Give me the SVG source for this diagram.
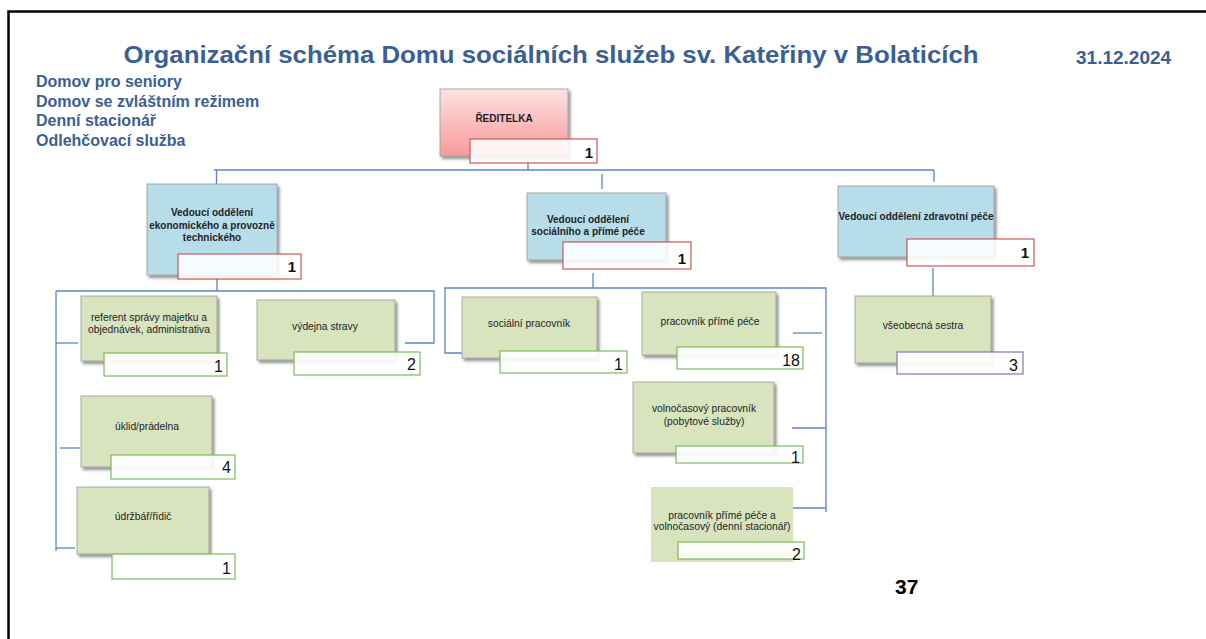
<svg xmlns="http://www.w3.org/2000/svg" width="1206" height="639" viewBox="0 0 1206 639">
<style>
.frame{stroke:#000;stroke-width:2.5;fill:none}
.title{font-family:"Liberation Sans",Arial,sans-serif;font-weight:bold;fill:#3b5f92}
.conn path{fill:none;stroke:#5b86c5;stroke-width:1.3}
.blue{fill:#b7dde8;stroke:#9a9a9a;stroke-width:0.8}
.green{fill:#d7e4bd;stroke:#9a9a9a;stroke-width:0.8}
.flat{fill:#d7e4bd}
.cnt-r{fill:#ffffff;fill-opacity:0.88;stroke:#c65a58;stroke-width:1.2}
.cnt-g{fill:#ffffff;fill-opacity:0.9;stroke:#7fba5a;stroke-width:1.2}
.cnt-p{fill:#ffffff;fill-opacity:0.9;stroke:#8e72b4;stroke-width:1.2}
.lh{font-family:"Liberation Sans",Arial,sans-serif;font-weight:bold;font-size:10px;fill:#1e1e2a;text-anchor:middle}
.lg{font-family:"Liberation Sans",Arial,sans-serif;font-size:10.3px;fill:#1e1e2a;text-anchor:middle}
.nb{font-family:"Liberation Sans",Arial,sans-serif;font-weight:bold;font-size:15px;fill:#111;text-anchor:end}
.nr{font-family:"Liberation Sans",Arial,sans-serif;font-size:16px;fill:#111;text-anchor:end}
</style>
<defs>
<filter id="sh" x="-10%" y="-10%" width="130%" height="140%">
<feDropShadow dx="2" dy="2.5" stdDeviation="1.5" flood-color="#000" flood-opacity="0.45"/>
</filter>
<linearGradient id="pink" x1="0" y1="0" x2="0" y2="1">
<stop offset="0" stop-color="#fde2e2"/>
<stop offset="1" stop-color="#f79a9a"/>
</linearGradient>
</defs>
<rect width="1206" height="639" fill="#fff"/>
<path class="frame" d="M8.5,639 V11.5 H1206"/>
<text class="title" x="551" y="63" font-size="23" text-anchor="middle" textLength="855" lengthAdjust="spacingAndGlyphs">Organizační schéma Domu sociálních služeb sv. Kateřiny v Bolaticích</text>
<text class="title" x="1076" y="64" font-size="19">31.12.2024</text>
<text class="title" font-size="16"><tspan x="36" y="87">Domov pro seniory</tspan><tspan x="36" y="106.7">Domov se zvláštním režimem</tspan><tspan x="36" y="126.4">Denní stacionář</tspan><tspan x="36" y="146">Odlehčovací služba</tspan></text>
<text x="895" y="594" font-family="Liberation Sans,Arial,sans-serif" font-weight="bold" font-size="21" fill="#000">37</text>

<g id="connectors" class="conn">
<path d="M214,170 H934"/>
<path d="M528,159 V170"/>
<path d="M216.5,170 V186"/>
<path d="M602,174 V189"/>
<path d="M934,170 V182"/>
<path d="M217,279 V291"/>
<path d="M56,291 H434 V343 H405"/>
<path d="M56,291 V551"/>
<path d="M56,343 H78"/>
<path d="M60,448 H80"/>
<path d="M56,548 H75"/>
<path d="M593,273 V288"/>
<path d="M463,353 H445 V288 H826 V512"/>
<path d="M793,333 H822"/>
<path d="M792,428 H826"/>
<path d="M793,508 H826"/>
<path d="M933,268 V300"/>
</g>

<g id="reditelka">
<rect x="440" y="89" width="128" height="67" fill="url(#pink)" stroke="#9a9a9a" stroke-width="0.8" filter="url(#sh)"/>
<text class="lh" x="504" y="122">ŘEDITELKA</text>
<rect class="cnt-r" x="470" y="139" width="127" height="24"/>
<text class="nb" x="593" y="158">1</text>
</g>

<g id="ved-ekonom">
<rect class="blue" x="147" y="184" width="130" height="91" filter="url(#sh)"/>
<text class="lh"><tspan x="212" y="216">Vedoucí oddělení</tspan><tspan x="212" y="228.5">ekonomického a provozně</tspan><tspan x="212" y="241">technického</tspan></text>
<rect class="cnt-r" x="178" y="254" width="123" height="25"/>
<text class="nb" x="296" y="272">1</text>
</g>

<g id="ved-social">
<rect class="blue" x="527" y="193" width="139" height="67" filter="url(#sh)"/>
<text class="lh"><tspan x="588" y="223">Vedoucí oddělení</tspan><tspan x="588" y="235">sociálního a přímé péče</tspan></text>
<rect class="cnt-r" x="563" y="242" width="128" height="27"/>
<text class="nb" x="686" y="264">1</text>
</g>

<g id="ved-zdrav">
<rect class="blue" x="838" y="186" width="156" height="71" filter="url(#sh)"/>
<text class="lh" x="916" y="220">Vedoucí oddělení zdravotní péče</text>
<rect class="cnt-r" x="907" y="239" width="127" height="27"/>
<text class="nb" x="1029" y="258">1</text>
</g>

<g id="referent">
<rect class="green" x="81" y="296" width="136" height="65" filter="url(#sh)"/>
<text class="lg"><tspan x="149" y="321">referent správy majetku a</tspan><tspan x="149" y="333">objednávek, administrativa</tspan></text>
<rect class="cnt-g" x="104" y="353" width="123" height="23"/>
<text class="nr" x="223" y="372">1</text>
</g>

<g id="vydejna">
<rect class="green" x="257" y="300" width="138" height="60" filter="url(#sh)"/>
<text class="lg" x="325" y="330">výdejna stravy</text>
<rect class="cnt-g" x="294" y="352" width="126" height="23"/>
<text class="nr" x="416" y="370">2</text>
</g>

<g id="uklid">
<rect class="green" x="81" y="396" width="131" height="71" filter="url(#sh)"/>
<text class="lg" x="147" y="430">úklid/prádelna</text>
<rect class="cnt-g" x="111" y="455" width="124" height="24"/>
<text class="nr" x="231" y="473">4</text>
</g>

<g id="udrzbar">
<rect class="green" x="77" y="487" width="132" height="67" filter="url(#sh)"/>
<text class="lg" x="143" y="520">údržbář/řidič</text>
<rect class="cnt-g" x="112" y="554" width="123" height="25"/>
<text class="nr" x="231" y="574">1</text>
</g>

<g id="socialni-pracovnik">
<rect class="green" x="462" y="297" width="135" height="61" filter="url(#sh)"/>
<text class="lg" x="529" y="327">sociální pracovník</text>
<rect class="cnt-g" x="500" y="351" width="127" height="22"/>
<text class="nr" x="623" y="370">1</text>
</g>

<g id="prima-pece">
<rect class="green" x="642" y="292" width="134" height="63" filter="url(#sh)"/>
<text class="lg" x="710" y="325">pracovník přímé péče</text>
<rect class="cnt-g" x="677" y="347" width="126" height="22"/>
<text class="nr" x="800" y="366">18</text>
</g>

<g id="volnocasovy">
<rect class="green" x="633" y="382" width="141" height="71" filter="url(#sh)"/>
<text class="lg"><tspan x="704" y="412">volnočasový pracovník</tspan><tspan x="704" y="425">(pobytové služby)</tspan></text>
<rect class="cnt-g" x="676" y="446" width="127" height="17"/>
<text class="nr" x="800" y="463">1</text>
</g>

<g id="stacionar">
<rect class="flat" x="651" y="487" width="142" height="75"/>
<text class="lg"><tspan x="722" y="519">pracovník přímé péče a</tspan><tspan x="722" y="530">volnočasový (denní stacionář)</tspan></text>
<rect class="cnt-g" x="678" y="542" width="126" height="17"/>
<text class="nr" x="801" y="560">2</text>
</g>

<g id="sestra">
<rect class="green" x="855" y="296" width="136" height="67" filter="url(#sh)"/>
<text class="lg" x="923" y="329">všeobecná sestra</text>
<rect class="cnt-p" x="897" y="352" width="126" height="22"/>
<text class="nr" x="1018" y="371">3</text>
</g>
</svg>
